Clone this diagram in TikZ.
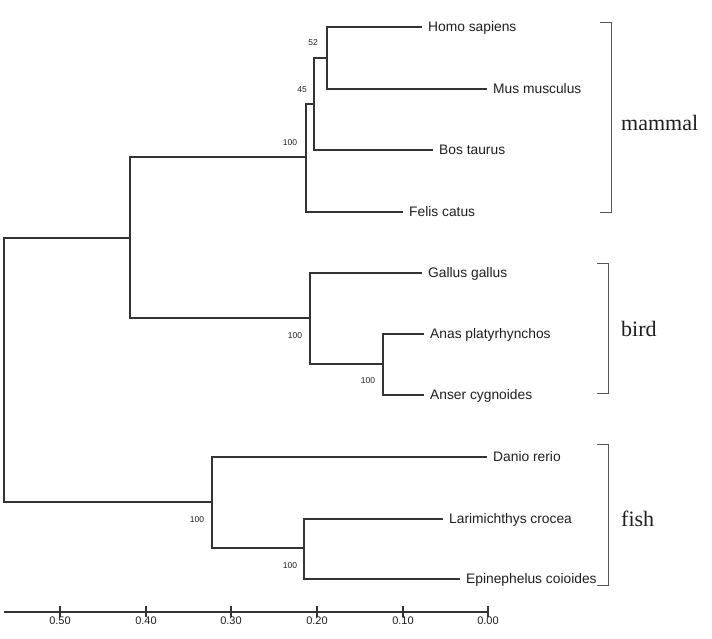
\documentclass[tikz,border=0pt]{standalone}
\usepackage{fontspec}
\setmainfont{Liberation Sans}
\newfontfamily\cladefont{Liberation Serif}
\definecolor{ln}{HTML}{333333}
\definecolor{txt}{HTML}{1E1E1E}
\definecolor{brk}{HTML}{555555}
\begin{document}
\begin{tikzpicture}[x=1pt,y=-1pt,
  branch/.style={draw=ln, line width=1.1pt},
  tip/.style={anchor=west, inner xsep=6pt, inner ysep=0pt, text height=9.9pt, text depth=0pt,
              font=\fontsize{13.8}{16}\selectfont, text=txt},
  boot/.style={inner sep=0pt, font=\fontsize{8.5}{10}\selectfont, text=txt},
  axislab/.style={anchor=base, inner sep=0pt, font=\fontsize{11}{13}\selectfont, text=txt},
  bracketline/.style={draw=brk, line width=1pt},
  clade/.style={anchor=base west, inner sep=0pt, font=\cladefont\fontsize{22}{26}\selectfont, text=txt}]
\useasboundingbox (0,0) rectangle (712,639);

% internal nodes
\coordinate (root) at (4,370);
\coordinate (nmb) at (130,238);
\coordinate (nm) at (306,157);
\coordinate (n45) at (314,104);
\coordinate (n52) at (327,58);
\coordinate (nb) at (310,318);
\coordinate (na) at (383,364);
\coordinate (nf) at (212,502);
\coordinate (nl) at (304,548);

% tips
\node[tip] (homo) at (422,27) {Homo sapiens};
\node[tip] (mus) at (487,89) {Mus musculus};
\node[tip] (bos) at (433,150) {Bos taurus};
\node[tip] (felis) at (403,212) {Felis catus};
\node[tip] (gallus) at (422,273) {Gallus gallus};
\node[tip] (anas) at (424,334) {Anas platyrhynchos};
\node[tip] (anser) at (424,395) {Anser cygnoides};
\node[tip] (danio) at (487,457) {Danio rerio};
\node[tip] (larim) at (443,519) {Larimichthys crocea};
\node[tip] (epine) at (460,579) {Epinephelus coioides};

% branches
\draw[branch] (root) |- (nmb);
\draw[branch] (root) |- (nf);
\draw[branch] (nmb) |- (nm);
\draw[branch] (nmb) |- (nb);
\draw[branch] (nm) |- (n45);
\draw[branch] (nm) |- (felis.west);
\draw[branch] (n45) |- (n52);
\draw[branch] (n45) |- (bos.west);
\draw[branch] (n52) |- (homo.west);
\draw[branch] (n52) |- (mus.west);
\draw[branch] (nb) |- (gallus.west);
\draw[branch] (nb) |- (na);
\draw[branch] (na) |- (anas.west);
\draw[branch] (na) |- (anser.west);
\draw[branch] (nf) |- (danio.west);
\draw[branch] (nf) |- (nl);
\draw[branch] (nl) |- (larim.west);
\draw[branch] (nl) |- (epine.west);

% bootstrap values
\node[boot] (b52) at (313,43) {52};
\node[boot] (b45) at (302,90) {45};
\node[boot] (bm) at (290,143) {100};
\node[boot] (bb) at (295,336) {100};
\node[boot] (ba) at (368,381) {100};
\node[boot] (bf) at (197,520) {100};
\node[boot] (bl) at (290,566) {100};

% clade brackets
\draw[bracketline] (600,23) -- (611,23) -- (611,213) -- (600,213);
\draw[bracketline] (597,263) -- (608,263) -- (608,393) -- (597,393);
\draw[bracketline] (597,444) -- (608,444) -- (608,585) -- (597,585);
\node[clade] (mammal) at (621,131) {mammal};
\node[clade] (bird) at (621,336) {bird};
\node[clade] (fish) at (621,526) {fish};

% scale axis
\coordinate (ax0) at (4,612);
\coordinate (ax1) at (488,612);
\draw[branch] (ax0) -- (ax1);
\foreach \v/\x in {0.50/60, 0.40/146, 0.30/231, 0.20/317, 0.10/403, 0.00/488}{
  \draw[branch] (\x,606) -- (\x,617);
  \node[axislab] at (\x,624) {\v};
}
\end{tikzpicture}
\end{document}
